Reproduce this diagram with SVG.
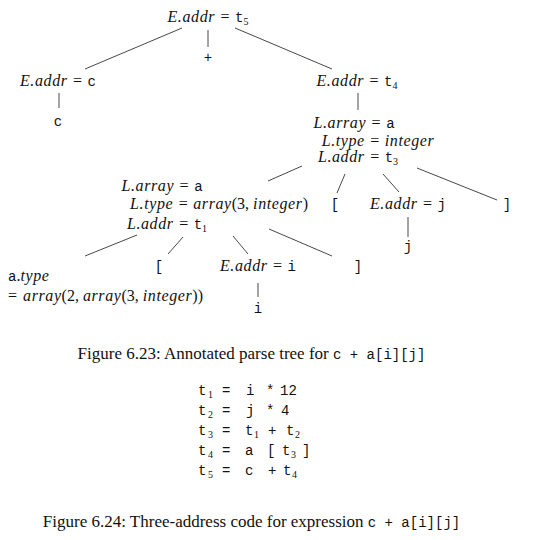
<svg xmlns="http://www.w3.org/2000/svg" width="535" height="540" viewBox="0 0 535 540">
<style>
text{font-family:"Liberation Serif",serif;font-size:16px;fill:#111}
.v{font-style:italic;letter-spacing:0.6px}
.m{font-family:"Liberation Mono",monospace;font-size:14px;letter-spacing:0}
.s{font-size:10px;letter-spacing:0}
.c{text-anchor:middle}
#edges line{stroke:#333;stroke-width:0.9}
.cap{font-size:17px}
.cm{font-family:"Liberation Mono",monospace;font-size:14px}
</style>
<rect width="535" height="540" fill="#fff"/>
<g id="edges">
<line x1="182" y1="28" x2="85" y2="69"/>
<line x1="208" y1="30" x2="208" y2="47"/>
<line x1="235" y1="28" x2="332" y2="69"/>
<line x1="59" y1="93" x2="59" y2="108"/>
<line x1="358" y1="93" x2="358" y2="110"/>
<line x1="302" y1="166" x2="268" y2="181"/>
<line x1="345" y1="174" x2="337" y2="193"/>
<line x1="383" y1="174" x2="399" y2="192"/>
<line x1="417" y1="168" x2="497" y2="200"/>
<line x1="408" y1="217" x2="408" y2="237"/>
<line x1="137" y1="235" x2="85" y2="256"/>
<line x1="183" y1="237" x2="168" y2="254"/>
<line x1="233" y1="236" x2="248" y2="254"/>
<line x1="269" y1="229" x2="332" y2="256"/>
<line x1="258" y1="283" x2="258" y2="297"/>
</g>
<g id="n_root"><text class="c" x="208" y="22"><tspan class="v">E.addr</tspan><tspan dx="1.5"> = </tspan><tspan class="m" dx="1.5">t</tspan><tspan class="s" dy="3">5</tspan></text></g>
<g id="n_plus"><text class="m c" x="208" y="62">+</text></g>
<g id="n_ec"><text class="c" x="58" y="86"><tspan class="v">E.addr</tspan><tspan dx="1.5"> = </tspan><tspan class="m" dx="1.5">c</tspan></text></g>
<g id="n_c"><text class="m c" x="58" y="126">c</text></g>
<g id="n_et4"><text class="c" x="357" y="86"><tspan class="v">E.addr</tspan><tspan dx="1.5"> = </tspan><tspan class="m" dx="1.5">t</tspan><tspan class="s" dy="3">4</tspan></text></g>
<g id="n_l3">
<text class="c" x="354" y="128"><tspan class="v">L.array</tspan><tspan dx="1.5"> = </tspan><tspan class="m" dx="1.5">a</tspan></text>
<text class="c" x="378" y="146"><tspan class="v">L.type</tspan><tspan dx="1.5"> = </tspan><tspan class="v" dx="1.5">integer</tspan></text>
<text class="c" x="358" y="162"><tspan class="v">L.addr</tspan><tspan dx="1.5"> = </tspan><tspan class="m" dx="1.5">t</tspan><tspan class="s" dy="3">3</tspan></text>
</g>
<g id="n_l1">
<text class="c" x="162" y="191"><tspan class="v">L.array</tspan><tspan dx="1.5"> = </tspan><tspan class="m" dx="1.5">a</tspan></text>
<text class="c" x="219" y="209"><tspan class="v">L.type</tspan><tspan dx="1.5"> = </tspan><tspan class="v" dx="1.5">array</tspan>(3, <tspan class="v">integer</tspan>)</text>
<text class="c" x="167" y="229"><tspan class="v">L.addr</tspan><tspan dx="1.5"> = </tspan><tspan class="m" dx="1.5">t</tspan><tspan class="s" dy="3">1</tspan></text>
</g>
<g id="n_lb2"><text class="m c" x="335" y="209">[</text></g>
<g id="n_ej"><text class="c" x="408" y="209"><tspan class="v">E.addr</tspan><tspan dx="1.5"> = </tspan><tspan class="m" dx="1.5">j</tspan></text></g>
<g id="n_rb2"><text class="m c" x="507" y="209">]</text></g>
<g id="n_j"><text class="m c" x="408" y="251">j</text></g>
<g id="n_atype">
<text x="8" y="281"><tspan class="m">a</tspan>.<tspan class="v">type</tspan></text>
<text x="8" y="301">=<tspan class="v" dx="6">array</tspan>(2, <tspan class="v">array</tspan>(3, <tspan class="v">integer</tspan>))</text>
</g>
<g id="n_lb1"><text class="m c" x="159" y="271">[</text></g>
<g id="n_ei"><text class="c" x="258" y="271"><tspan class="v">E.addr</tspan><tspan dx="1.5"> = </tspan><tspan class="m" dx="1.5">i</tspan></text></g>
<g id="n_rb1"><text class="m c" x="358" y="271">]</text></g>
<g id="n_i"><text class="m c" x="258" y="313">i</text></g>
<g id="cap1"><text class="cap c" x="251.5" y="359">Figure 6.23: Annotated parse tree for <tspan class="cm">c + a[i][j]</tspan></text></g>
<g id="code">
<text class="m" y="395"><tspan x="198">t</tspan><tspan class="s" font-family="Liberation Serif" x="208" y="398">1</tspan><tspan x="222" y="395">=</tspan><tspan x="246">i</tspan><tspan x="266">*</tspan><tspan x="280">12</tspan></text>
<text class="m" y="415"><tspan x="198">t</tspan><tspan class="s" font-family="Liberation Serif" x="208" y="418">2</tspan><tspan x="222" y="415">=</tspan><tspan x="246">j</tspan><tspan x="266">*</tspan><tspan x="281">4</tspan></text>
<text class="m" y="435"><tspan x="198">t</tspan><tspan class="s" font-family="Liberation Serif" x="208" y="438">3</tspan><tspan x="222" y="435">=</tspan><tspan x="245">t</tspan><tspan class="s" font-family="Liberation Serif" x="254" y="438">1</tspan><tspan x="268" y="435">+</tspan><tspan x="286">t</tspan><tspan class="s" font-family="Liberation Serif" x="295" y="438">2</tspan></text>
<text class="m" y="455"><tspan x="198">t</tspan><tspan class="s" font-family="Liberation Serif" x="208" y="458">4</tspan><tspan x="222" y="455">=</tspan><tspan x="245">a</tspan><tspan x="267">[</tspan><tspan x="282">t</tspan><tspan class="s" font-family="Liberation Serif" x="291" y="458">3</tspan><tspan x="302" y="455">]</tspan></text>
<text class="m" y="475"><tspan x="198">t</tspan><tspan class="s" font-family="Liberation Serif" x="208" y="478">5</tspan><tspan x="222" y="475">=</tspan><tspan x="245">c</tspan><tspan x="268">+</tspan><tspan x="283">t</tspan><tspan class="s" font-family="Liberation Serif" x="292" y="478">4</tspan></text>
</g>
<g id="cap2"><text class="cap c" x="251.5" y="527">Figure 6.24: Three-address code for expression <tspan class="cm">c + a[i][j]</tspan></text></g>
</svg>
